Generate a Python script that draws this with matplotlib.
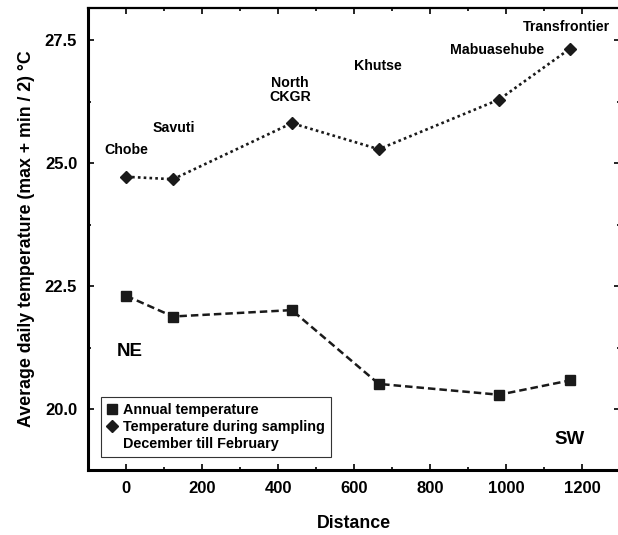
import matplotlib
matplotlib.use("Agg")
import matplotlib.pyplot as plt
from matplotlib.ticker import MultipleLocator
from matplotlib.lines import Line2D

plt.rcParams['font.family'] = ['Liberation Sans', 'DejaVu Sans']
plt.rcParams['font.weight'] = 'bold'

sites = ["Chobe", "Savuti", "North\nCKGR", "Khutse", "Mabuasehube", "Transfrontier"]
distance = [0, 123, 436, 665, 982, 1168]
annual_temp = [22.30, 21.88, 22.01, 20.51, 20.29, 20.58]
sampling_temp = [24.72, 24.67, 25.81, 25.28, 26.29, 27.32]
# label anchor positions (data units)
label_x = [0, 124, 432, 663, 976, 1160]
label_y = [25.26, 25.71, 26.48, 26.97, 27.30, 27.76]

x_ticks = [0, 200, 400, 600, 800, 1000, 1200]
y_ticks = [20.0, 22.5, 25.0, 27.5]

fig = plt.figure(figsize=(6.18, 5.35), dpi=100)
ax = fig.add_axes([0.1429, 0.1224, 1.003 - 0.1429, 0.985 - 0.1224])

ax.plot(distance, annual_temp, linestyle=(0, (3, 1.6)), color='#1a1a1a', linewidth=1.8,
        marker='s', markersize=7.5, markerfacecolor='#1a1a1a', markeredgecolor='#1a1a1a')
ax.plot(distance, sampling_temp, linestyle=(0, (1, 1.2)), color='#1a1a1a', linewidth=1.9,
        marker='D', markersize=6.6, markerfacecolor='#1a1a1a', markeredgecolor='#1a1a1a')

for s, lx, ly in zip(sites, label_x, label_y):
    ax.text(lx, ly, s, ha='center', va='center', fontsize=10.2, fontweight='bold',
            linespacing=1.0)

ax.text(10, 21.16, "NE", ha='center', va='center', fontsize=13.5, fontweight='bold')
ax.text(1168, 19.37, "SW", ha='center', va='center', fontsize=13.5, fontweight='bold')

ax.set_xlim(-100, 1300)
ax.set_ylim(18.77, 28.15)
ax.set_xticks(x_ticks)
ax.set_xticklabels([str(v) for v in x_ticks])
ax.set_yticks(y_ticks)
ax.set_yticklabels([f"{v:.1f}" for v in y_ticks])
ax.xaxis.set_minor_locator(MultipleLocator(100))
ax.yaxis.set_minor_locator(MultipleLocator(1.25))
ax.tick_params(which='both', direction='in', top=True, right=True, width=1.2)
ax.tick_params(which='major', length=4, labelsize=12, pad=8)
ax.tick_params(which='minor', length=2.5)
for lab in ax.get_xticklabels() + ax.get_yticklabels():
    lab.set_fontweight('bold')

for side in ['left', 'bottom']:
    ax.spines[side].set_linewidth(2.2)
for side in ['top', 'right']:
    ax.spines[side].set_linewidth(1.6)

ax.set_xlabel("Distance", fontsize=12.8, fontweight='bold', labelpad=14)
ax.set_ylabel("Average daily temperature (max + min / 2) \u00b0C", fontsize=12.8,
              fontweight='bold', labelpad=7)

handles = [
    Line2D([], [], linestyle='none', marker='s', markersize=7.5, color='#1a1a1a'),
    Line2D([], [], linestyle='none', marker='D', markersize=6.6, color='#1a1a1a'),
    Line2D([], [], linestyle='none', marker=None, color='none'),
]
leg = ax.legend(handles, ["Annual temperature", "Temperature during sampling",
                          "December till February"],
                loc='lower left', bbox_to_anchor=(0.024, 0.027), fontsize=10.4,
                frameon=True, fancybox=False, edgecolor='#333333', framealpha=1,
                handlelength=0.7, handletextpad=0.4, borderpad=0.42, labelspacing=0.2,
                borderaxespad=0)
leg.get_frame().set_linewidth(0.8)
for t in leg.get_texts():
    t.set_fontweight('bold')

fig.savefig("out.png", dpi=100)
